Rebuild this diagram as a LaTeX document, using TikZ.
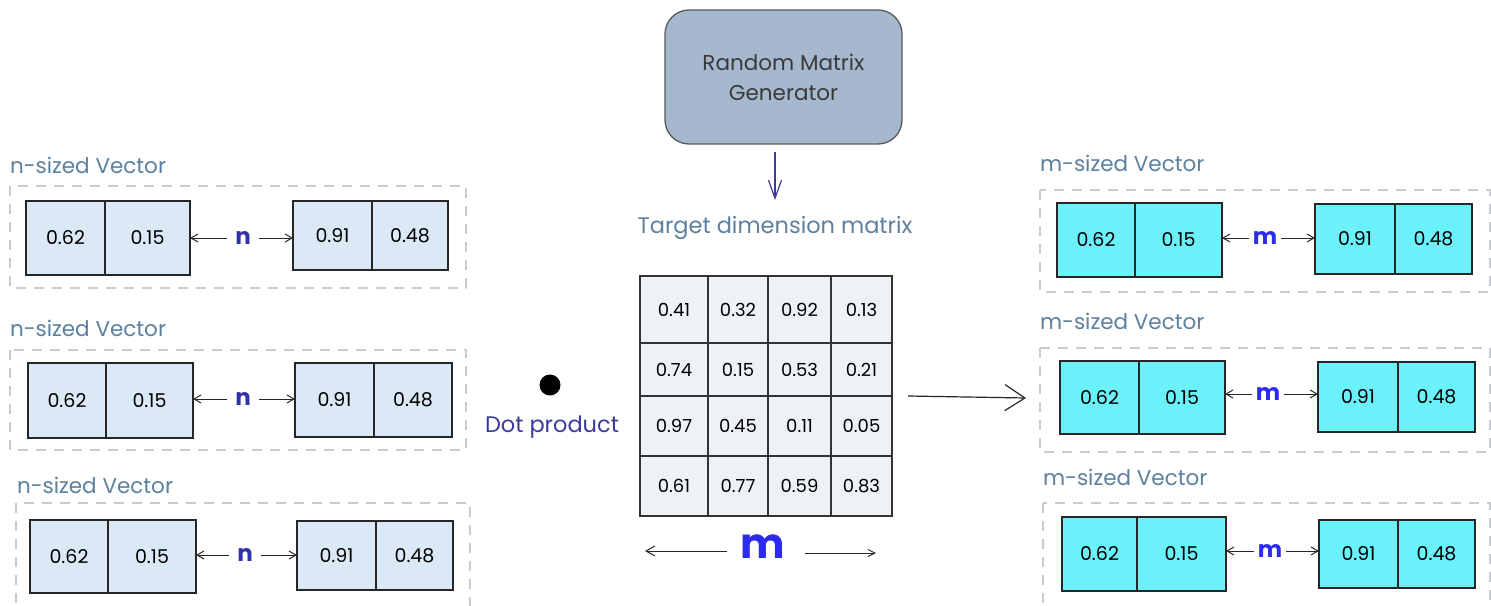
\documentclass[tikz,border=0pt]{standalone}
\usepackage{fontspec}
\setmainfont{Poppins}
\usetikzlibrary{arrows.meta}
\definecolor{genfill}{HTML}{A5B8CD}
\definecolor{gentext}{HTML}{3A3A3A}
\definecolor{indigo}{HTML}{3B3B9B}
\definecolor{labelblue}{HTML}{5C80A0}
\definecolor{nblue}{HTML}{3030A8}
\definecolor{mblue}{HTML}{2B2BF0}
\definecolor{matfill}{HTML}{EEF2F7}
\definecolor{nfill}{HTML}{DBE8F5}
\definecolor{mfill}{HTML}{6AF1FA}
\definecolor{dashgray}{HTML}{C8CCD0}
\tikzset{
  every node/.style={inner sep=0pt, outer sep=0pt},
  lbl/.style={text=labelblue, font=\fontsize{21.5}{24}\selectfont, anchor=west},
  ncell/.style={draw=black!85, line width=1.3pt, fill=nfill, font=\fontsize{19}{22}\selectfont},
  mcell/.style={draw=black!85, line width=1.3pt, fill=mfill, font=\fontsize{19}{22}\selectfont},
  matcell/.style={draw=black!80, line width=1.3pt, fill=matfill, font=\fontsize{18}{21}\selectfont},
  grp/.style={draw=dashgray, line width=1.4pt, dash pattern=on 10pt off 8pt},
  nlet/.style={text=nblue, font=\bfseries\fontsize{23}{24}\selectfont},
  mlet/.style={text=mblue, font=\bfseries\fontsize{23}{24}\selectfont},
  sarr/.style={-{Straight Barb[length=7pt,width=8pt]}, line width=1pt, black!85},
}
% name, style, x1, xdiv, x2, y1, y2, text1, text2
\newcommand\cellpair[9]{%
  \node[#2, minimum width={#4-#3}, minimum height={#7-#6}] (#1a) at ({(#3+#4)/2},{(#6+#7)/2}) {#8};
  \node[#2, minimum width={#5-#4}, minimum height={#7-#6}] (#1b) at ({(#4+#5)/2},{(#6+#7)/2}) {#9};
}
% name, x1, x2, y1, y2, text
\newcommand\matcellnode[6]{%
  \node[matcell, minimum width={#3-#2}, minimum height={#5-#4}] (#1) at ({(#2+#3)/2},{(#4+#5)/2}) {#6};
}
\begin{document}
\begin{tikzpicture}[x=1pt,y=-1pt]
\clip (0,0) rectangle (1491,605);
\fill[white] (0,0) rectangle (1491,605);

% generator
\node[draw=black!65, line width=1.3pt, fill=genfill, rounded corners=24pt,
      minimum width=237, minimum height=134, text=gentext,
      font=\fontsize{21.5}{30}\selectfont, align=center] (gen) at (783.5,77) {Random Matrix\\Generator};
\node[text=labelblue, font=\fontsize{22.5}{24}\selectfont] (tdm) at (775,228) {Target dimension matrix};
\coordinate (arrS) at (775,152);
\coordinate (arrE) at (775,200);
\draw[indigo, line width=1.2pt, -{Straight Barb[length=18pt,width=13pt]}] (arrS) -- (arrE);

% matrix
\matcellnode{m11}{640}{708}{276}{343}{0.41}
\matcellnode{m12}{708}{768}{276}{343}{0.32}
\matcellnode{m13}{768}{831}{276}{343}{0.92}
\matcellnode{m14}{831}{892}{276}{343}{0.13}
\matcellnode{m21}{640}{708}{343}{396}{0.74}
\matcellnode{m22}{708}{768}{343}{396}{0.15}
\matcellnode{m23}{768}{831}{343}{396}{0.53}
\matcellnode{m24}{831}{892}{343}{396}{0.21}
\matcellnode{m31}{640}{708}{396}{456}{0.97}
\matcellnode{m32}{708}{768}{396}{456}{0.45}
\matcellnode{m33}{768}{831}{396}{456}{0.11}
\matcellnode{m34}{831}{892}{396}{456}{0.05}
\matcellnode{m41}{640}{708}{456}{516}{0.61}
\matcellnode{m42}{708}{768}{456}{516}{0.77}
\matcellnode{m43}{768}{831}{456}{516}{0.59}
\matcellnode{m44}{831}{892}{456}{516}{0.83}

% m below matrix
\node[text=mblue, font=\bfseries\fontsize{42}{42}\selectfont] (mbig) at (763,547) {m};
\coordinate (mL) at (645,551);
\coordinate (mR) at (876,553);
\draw[-{Straight Barb[length=9pt,width=10pt]}, line width=1pt, black!85] ([xshift=-14pt]mbig.west |- mL) -- (mL);
\draw[-{Straight Barb[length=7pt,width=7pt]}, line width=1pt, black!85] ([xshift=20pt]mbig.east |- mR) -- (mR);

% dot product
\node[circle, fill=black, minimum size=21] (dot) at (550,385) {};
\node[text=indigo, font=\fontsize{22.5}{24}\selectfont] (dp) at (552,427) {Dot product};

% big arrow
\coordinate (bigS) at (908,396);
\coordinate (bigE) at (1026,398);
\draw[line width=1.2pt, black!85, -{Straight Barb[length=20pt,width=26pt]}] (bigS) -- (bigE);

% left groups
\node[lbl] (ll1) at (10,165) {n-sized Vector};
\draw[grp] (10,186) rectangle (466,288);
\cellpair{L1l}{ncell}{26}{105}{190}{201}{275}{0.62}{0.15}
\cellpair{L1r}{ncell}{293}{372}{448}{201}{270}{0.91}{0.48}
\node[nlet] (n1) at (243,238) {n};
\draw[sarr] ([xshift=-8pt]n1.west) -- (L1lb.east |- n1);
\draw[sarr] ([xshift=8pt]n1.east) -- (L1ra.west |- n1);

\node[lbl] (ll2) at (10,328) {n-sized Vector};
\draw[grp] (10,350) rectangle (466,450);
\cellpair{L2l}{ncell}{28}{106}{193}{363}{438}{0.62}{0.15}
\cellpair{L2r}{ncell}{295}{374}{452}{363}{437}{0.91}{0.48}
\node[nlet] (n2) at (243,399) {n};
\draw[sarr] ([xshift=-8pt]n2.west) -- (L2lb.east |- n2);
\draw[sarr] ([xshift=8pt]n2.east) -- (L2ra.west |- n2);

\node[lbl] (ll3) at (17,485) {n-sized Vector};
\draw[grp] (16,503) rectangle (470,625);
\cellpair{L3l}{ncell}{30}{108}{196}{520}{593}{0.62}{0.15}
\cellpair{L3r}{ncell}{297}{376}{453}{521}{590}{0.91}{0.48}
\node[nlet] (n3) at (245,555) {n};
\draw[sarr] ([xshift=-8pt]n3.west) -- (L3lb.east |- n3);
\draw[sarr] ([xshift=8pt]n3.east) -- (L3ra.west |- n3);

% right groups
\node[lbl] (rl1) at (1040,163) {m-sized Vector};
\draw[grp] (1040,190) rectangle (1490,292);
\cellpair{R1l}{mcell}{1057}{1135}{1222}{203}{277}{0.62}{0.15}
\cellpair{R1r}{mcell}{1315}{1395}{1472}{204}{274}{0.91}{0.48}
\node[mlet] (mm1) at (1265,238) {m};
\draw[sarr] ([xshift=-4pt]mm1.west) -- (R1lb.east |- mm1);
\draw[sarr] ([xshift=4pt]mm1.east) -- (R1ra.west |- mm1);

\node[lbl] (rl2) at (1040,321) {m-sized Vector};
\draw[grp] (1040,348) rectangle (1490,452);
\cellpair{R2l}{mcell}{1060}{1139}{1225}{361}{434}{0.62}{0.15}
\cellpair{R2r}{mcell}{1318}{1398}{1475}{362}{432}{0.91}{0.48}
\node[mlet] (mm2) at (1268,394) {m};
\draw[sarr] ([xshift=-4pt]mm2.west) -- (R2lb.east |- mm2);
\draw[sarr] ([xshift=4pt]mm2.east) -- (R2ra.west |- mm2);

\node[lbl] (rl3) at (1043,477) {m-sized Vector};
\draw[grp] (1043,503) rectangle (1490,625);
\cellpair{R3l}{mcell}{1062}{1137}{1226}{517}{591}{0.62}{0.15}
\cellpair{R3r}{mcell}{1319}{1398}{1475}{520}{588}{0.91}{0.48}
\node[mlet] (mm3) at (1270,551) {m};
\draw[sarr] ([xshift=-4pt]mm3.west) -- (R3lb.east |- mm3);
\draw[sarr] ([xshift=4pt]mm3.east) -- (R3ra.west |- mm3);
\end{tikzpicture}
\end{document}
